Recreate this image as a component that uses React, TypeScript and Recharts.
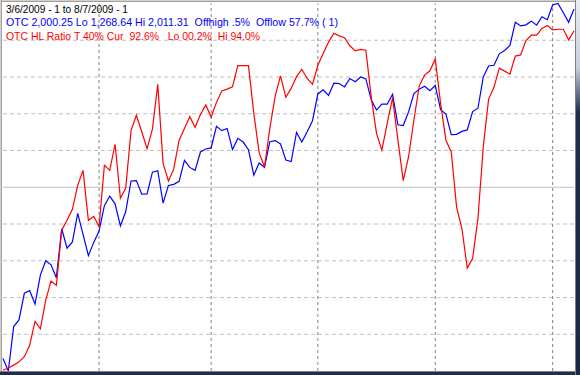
import { LineChart, Line, XAxis, YAxis, ReferenceLine } from "recharts";

// trading days 3/6/2009 .. 8/7/2009
const dates = [
  "3/6", "3/9", "3/10", "3/11", "3/12", "3/13", "3/16", "3/17", "3/18", "3/19", "3/20",
  "3/23", "3/24", "3/25", "3/26", "3/27", "3/30", "3/31",
  "4/1", "4/2", "4/3", "4/6", "4/7", "4/8", "4/9", "4/13", "4/14", "4/15", "4/16", "4/17",
  "4/20", "4/21", "4/22", "4/23", "4/24", "4/27", "4/28", "4/29", "4/30",
  "5/1", "5/4", "5/5", "5/6", "5/7", "5/8", "5/11", "5/12", "5/13", "5/14", "5/15",
  "5/18", "5/19", "5/20", "5/21", "5/22", "5/26", "5/27", "5/28", "5/29",
  "6/1", "6/2", "6/3", "6/4", "6/5", "6/8", "6/9", "6/10", "6/11", "6/12",
  "6/15", "6/16", "6/17", "6/18", "6/19", "6/22", "6/23", "6/24", "6/25", "6/26", "6/29", "6/30",
  "7/1", "7/2", "7/6", "7/7", "7/8", "7/9", "7/10", "7/13", "7/14", "7/15", "7/16", "7/17",
  "7/20", "7/21", "7/22", "7/23", "7/24", "7/27", "7/28", "7/29", "7/30", "7/31",
  "8/3", "8/4", "8/5", "8/6", "8/7",
];

// OTC close scaled between period low (0) and high (100)
const otcScaled = [
  3.4, 0, 12.1, 13.9, 21.2, 21.9, 18.2, 26.1, 30.0, 28.9, 25.4, 38.7, 33.4, 35.1, 42.9, 37.2, 31.4, 35.0,
  38.1, 45.0, 47.6, 45.5, 39.5, 43.4, 51.7, 51.8, 48.1, 48.2, 54.1, 54.5, 45.7, 50.5, 50.8, 51.6, 57.3, 55.4, 54.6, 59.6, 60.4,
  60.7, 66.6, 65.4, 66.0, 60.3, 63.3, 62.3, 60.2, 53.3, 56.6, 55.4, 62.4, 62.7, 61.8, 57.4, 57.0, 64.9, 62.3, 65.1, 68.1,
  75.4, 76.5, 75.0, 78.3, 78.2, 77.3, 79.6, 78.7, 80.0, 79.5, 73.8, 71.0, 72.6, 72.6, 75.3, 67.0, 66.8, 70.5, 75.5, 76.7, 77.5, 76.3,
  77.7, 71.1, 69.9, 64.3, 64.4, 65.2, 65.6, 70.6, 71.5, 80.0, 83.0, 83.2, 86.3, 87.2, 88.6, 94.9, 93.9, 94.2, 95.2, 94.1, 96.4, 95.6,
  99.6, 100, 97.5, 94.9, 98.5,
];

// OTC high/low ratio, %
const hlRatio = [
  0.2, 0.8, 1.6, 2.5, 3.9, 7.0, 13.5, 11.5, 19.2, 24.5, 23.3, 38.3, 41.0, 44.0, 50.5, 54.6, 41.0, 42.1,
  39.3, 56.0, 54.6, 61.7, 47.0, 49.8, 65.5, 69.6, 65.1, 60.5, 65.8, 78.0, 56.5, 51.7, 55.0, 62.8, 66.0, 69.2, 66.3, 69.8, 72.4,
  69.1, 73.1, 76.2, 76.7, 77.3, 83.1, 83.1, 83.1, 70.1, 59.4, 55.5, 66.0, 74.8, 80.3, 74.5, 76.9, 80.1, 82.1, 79.6, 78.0,
  83.2, 86.4, 89.5, 91.9, 91.2, 90.7, 88.5, 87.1, 87.5, 87.3, 74.6, 64.6, 60.1, 67.4, 74.3, 62.9, 51.8, 58.3, 68.3, 77.6, 80.5, 81.7,
  84.9, 72.8, 62.8, 59.6, 44.6, 38.7, 28.0, 30.6, 41.5, 61.0, 74.0, 77.2, 82.4, 81.6, 80.8, 85.7, 86.0, 89.9, 91.4, 91.4, 93.2, 94.0,
  92.8, 93.0, 93.0, 90.1, 92.6,
];

const levelLines = [10, 20, 30, 40, 50, 60, 70, 80, 90];

const headerLines = [
  { text: "3/6/2009 - 1 to 8/7/2009 - 1", color: "#000000", width: 122 },
  { text: "OTC 2,000.25 Lo 1,268.64 Hi 2,011.31  Offhigh .5%  Offlow 57.7% ( 1)", color: "#0000ff", width: 332 },
  { text: "OTC HL Ratio T 40% Cur  92.6%   Lo 00.2%  Hi 94.0%", color: "#ff0000", width: 254 },
];

const data = dates.map((d, i) => ({ i, date: d, otc: otcScaled[i], hl: hlRatio[i] }));

// first trading day of each new month
const monthStarts = dates
  .map((d, i) => (i > 0 && d.split("/")[0] !== dates[i - 1].split("/")[0] ? i : -1))
  .filter((i) => i >= 0);

export default function App() {
  return (
    <div
      style={{
        position: "fixed",
        left: 0,
        top: 0,
        width: 580,
        height: 375,
        background: "#ffffff",
        overflow: "hidden",
      }}
    >
      <LineChart width={580} height={375} data={data} margin={{ top: 3.5, right: 6, bottom: 4, left: 3 }}>
        <XAxis type="number" dataKey="i" domain={[0, dates.length - 1]} hide />
        <YAxis type="number" domain={[0, 100]} hide />

        {levelLines.map((v) => (
          <ReferenceLine
            key={"h" + v}
            y={v}
            stroke="#c0c0c0"
            strokeWidth={1}
            strokeDasharray={v === 50 ? undefined : "4 3"}
          />
        ))}
        {monthStarts.map((i) => (
          <ReferenceLine key={"v" + i} x={i} stroke="#808080" strokeWidth={1} strokeDasharray="3 3" />
        ))}

        <Line
          dataKey="otc"
          type="linear"
          stroke="#0000ff"
          strokeWidth={1.2}
          dot={false}
          isAnimationActive={false}
        />
        <Line
          dataKey="hl"
          type="linear"
          stroke="#ff0000"
          strokeWidth={1.2}
          dot={false}
          isAnimationActive={false}
        />
      </LineChart>

      {/* header text */}
      <svg width={580} height={45} style={{ position: "absolute", left: 0, top: 0 }}>
        {headerLines.map((l, k) => (
          <text
            key={k}
            x={6}
            y={13.3 + k * 13.1}
            fill={l.color}
            fontFamily="'Liberation Sans', Arial, sans-serif"
            fontSize={11}
            textLength={l.width}
            lengthAdjust="spacingAndGlyphs"
            style={{ whiteSpace: "pre" }}
          >
            {l.text}
          </text>
        ))}
      </svg>

      {/* window frame */}
      <div style={{ position: "absolute", left: 0, top: 0, width: 580, height: 1, background: "#d4d0c8" }} />
      <div style={{ position: "absolute", left: 0, top: 1, width: 580, height: 1, background: "#a0a0a0" }} />
      <div style={{ position: "absolute", left: 0, top: 0, width: 1, height: 375, background: "#d4d0c8" }} />
      <div style={{ position: "absolute", left: 1, top: 0, width: 1, height: 375, background: "#a0a0a0" }} />
      <div style={{ position: "absolute", left: 0, top: 371, width: 580, height: 1, background: "#808080" }} />
      <div style={{ position: "absolute", left: 0, top: 372, width: 580, height: 3, background: "#1e2c4e" }} />
      <div style={{ position: "absolute", left: 575, top: 0, width: 1, height: 375, background: "#808080" }} />
      <div
        style={{
          position: "absolute",
          left: 576,
          top: 0,
          width: 4,
          height: 375,
          background: "linear-gradient(#e8ecf2 0%, #c8d0dc 18%, #1e2c4e 30%, #1a2846 100%)",
        }}
      />
    </div>
  );
}
